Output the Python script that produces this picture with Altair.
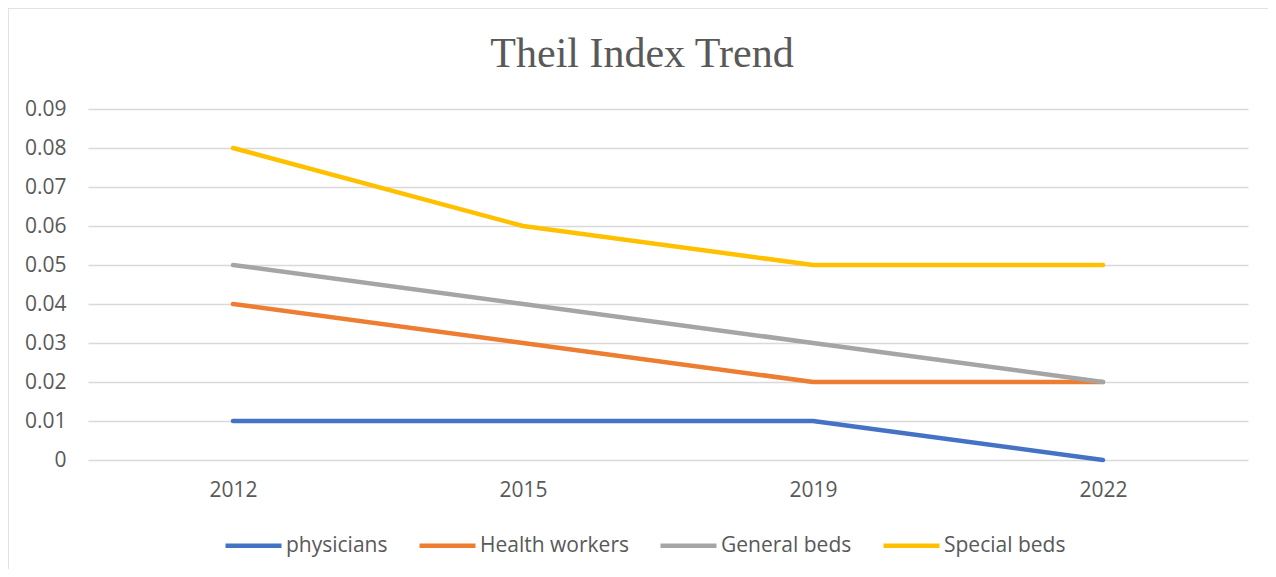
import altair as alt
import pandas as pd

title_text = "Theil Index Trend"
years = ["2012", "2015", "2019", "2022"]
series_names = ["physicians", "Health workers", "General beds", "Special beds"]
physicians = [0.01, 0.01, 0.01, 0.00]
health_workers = [0.04, 0.03, 0.02, 0.02]
general_beds = [0.05, 0.04, 0.03, 0.02]
special_beds = [0.08, 0.06, 0.05, 0.05]
colors = ["#4472C4", "#ED7D31", "#A5A5A5", "#FFC000"]
y_ticks = [0, 0.01, 0.02, 0.03, 0.04, 0.05, 0.06, 0.07, 0.08, 0.09]

rows = []
for name, vals in zip(series_names, [physicians, health_workers, general_beds, special_beds]):
    for yr, v in zip(years, vals):
        rows.append({"Year": yr, "Value": v, "Series": name, "order": series_names.index(name)})
df = pd.DataFrame(rows)

TXT = "#595959"
FONT = "Open Sans"

lines = alt.Chart(df).mark_line(strokeWidth=4.5, strokeCap="round", strokeJoin="round").encode(
    x=alt.X("Year:N", sort=years, scale=alt.Scale(type="point", padding=0.5),
            axis=alt.Axis(title=None, ticks=False, domain=False, grid=False, labelAngle=0,
                          labelFont=FONT, labelFontSize=21, labelColor=TXT, labelPadding=19)),
    y=alt.Y("Value:Q", scale=alt.Scale(domain=[0, 0.09], nice=False, zero=True),
            axis=alt.Axis(title=None, values=y_ticks, ticks=False, domain=False,
                          labelExpr="datum.value == 0 ? '0' : format(datum.value, '.2f')",
                          labelFont=FONT, labelFontSize=21, labelColor=TXT, labelPadding=22,
                          gridColor="#D9D9D9", gridWidth=1.3)),
    color=alt.Color("Series:N", scale=alt.Scale(domain=series_names, range=colors),
                    legend=alt.Legend(title=None, orient="none", direction="horizontal",
                                      columns=4, legendX=135, legendY=406,
                                      symbolType="stroke", symbolSize=3136,
                                      symbolStrokeWidth=4.5, labelFont=FONT,
                                      labelFontSize=21, labelColor=TXT,
                                      labelOffset=2, columnPadding=22)),
    order="order:Q",
    detail="Series:N",
)

border = alt.Chart(alt.Data(values=[{}])).mark_rect(fill=None, stroke="#D9D9D9", strokeWidth=1.5).encode(
    x=alt.value(-80), y=alt.value(-101), x2=alt.value(1300), y2=alt.value(600)
)

title = alt.Chart(alt.Data(values=[{"t": title_text}])).mark_text(
    font="Liberation Serif", fontSize=42, color=TXT, align="center", baseline="alphabetic"
).encode(text="t:N", x=alt.value(554), y=alt.value(-42))

chart = alt.layer(border, lines, title).properties(
    width=1160, height=351,
    padding={"left": 80, "top": 101, "right": 20, "bottom": 109},
    autosize=alt.AutoSizeParams(type="none"),
).configure(background="white").configure_view(stroke=None)

chart.save("out.html", embed_options={"renderer": "svg", "actions": False})
